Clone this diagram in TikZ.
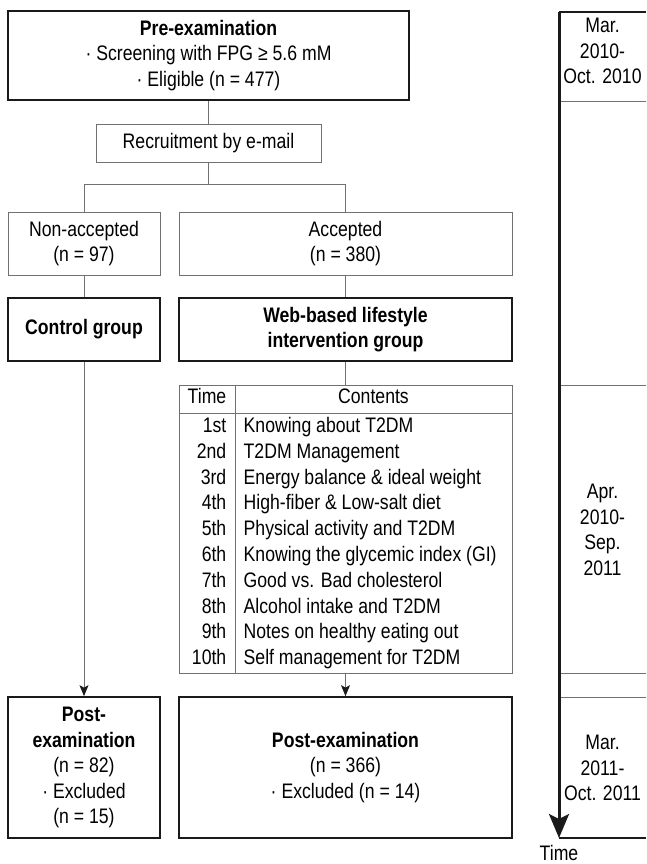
\documentclass[tikz,border=0pt]{standalone}
\usepackage{fontspec}
\setmainfont{Liberation Sans}[FakeStretch=0.84]
\usetikzlibrary{arrows.meta}
\definecolor{lg}{HTML}{707070}
\definecolor{dk}{HTML}{1A1A1A}
\newcommand\dtxt{\fontsize{21}{25.5}\selectfont}
\begin{document}
\begin{tikzpicture}[x=1pt,y=-1pt,
  txt/.style={inner sep=0pt, align=center, font=\dtxt, text=black},
  thinbox/.style={txt, draw=lg, line width=1pt},
  thickbox/.style={txt, draw=dk, line width=1.7pt},
  conn/.style={draw=lg, line width=1pt},
  arr/.style={conn, -{Stealth[length=11pt,width=9pt,inset=2.5pt,color=dk]}},
  tick/.style={draw=lg, line width=1pt},
  tickdk/.style={draw=dk, line width=1.2pt}]
\useasboundingbox (0,0) rectangle (646,864);
% boxes
\node[thickbox, minimum width=401pt, minimum height=89pt] (pre) at (208.5,55.5)
  {\textbf{Pre-examination}\\· Screening with FPG ≥ 5.6 mM\\· Eligible (n = 477)};
\node[thinbox, minimum width=225pt, minimum height=37pt] (rec) at (208.5,143.5)
  {Recruitment by e-mail};
\node[thinbox, minimum width=152pt, minimum height=63pt] (non) at (84,243.5)
  {Non-accepted\\(n = 97)};
\node[thinbox, minimum width=333pt, minimum height=63pt] (acc) at (345.5,243.5)
  {Accepted\\(n = 380)};
\node[thickbox, minimum width=152pt, minimum height=63pt] (ctrl) at (84,329.5)
  {\textbf{Control group}};
\node[thickbox, minimum width=333pt, minimum height=63pt] (web) at (345.5,329.5)
  {\textbf{Web-based lifestyle}\\\textbf{intervention group}};
\node[draw=lg, line width=1pt, inner sep=0pt, minimum width=333pt, minimum height=288pt] (tbl) at (345.5,529) {};
\node[thickbox, minimum width=152pt, minimum height=141pt] (postl) at (84,767.5)
  {\textbf{Post-}\\\textbf{examination}\\(n = 82)\\· Excluded\\(n = 15)};
\node[thickbox, minimum width=333pt, minimum height=141pt] (postr) at (345.5,767.5)
  {\textbf{Post-examination}\\(n = 366)\\· Excluded (n = 14)};
% table internals
\coordinate (hl) at (179,413);
\coordinate (hr) at (512,413);
\coordinate (ct) at (235,385);
\coordinate (cb) at (235,673);
\draw[conn] (hl) -- (hr);
\draw[conn] (ct) -- (cb);
\node[txt, anchor=mid] (th1) at (207,401) {Time};
\node[txt, anchor=mid] (th2) at (373.5,401) {Contents};
\foreach \n/\c [count=\i from 0] in {1st/Knowing about T2DM, 2nd/T2DM Management,
  3rd/Energy balance \& ideal weight, 4th/High-fiber \& Low-salt diet,
  5th/Physical activity and T2DM, 6th/Knowing the glycemic index (GI),
  7th/Good vs. Bad cholesterol, 8th/Alcohol intake and T2DM,
  9th/Notes on healthy eating out, 10th/Self management for T2DM}{
  \node[txt, anchor=mid east] (rn\i) at (226.5,{430+\i*25.78}) {\n};
  \node[txt, anchor=mid west] (rc\i) at (243.5,{430+\i*25.78}) {\c};
}
% connectors
\coordinate (bl) at (84,184);
\coordinate (br) at (345.5,184);
\coordinate (bm) at (208.5,184);
\draw[conn] (pre.south) -- (rec.north);
\draw[conn] (rec.south) -- (bm);
\draw[conn] (non.north) -- (bl) -- (br) -- (acc.north);
\draw[conn] (non.south) -- (ctrl.north);
\draw[conn] (acc.south) -- (web.north);
\draw[conn] (web.south) -- (tbl.north);
\draw[arr] (ctrl.south) -- (postl.north);
\draw[arr] (tbl.south) -- (postr.north);
% timeline
\coordinate (t0) at (559,12);
\coordinate (t1) at (559,838);
\foreach \y/\s in {12/tickdk,102/tick,385/tick,673/tick,697/tick,838/tickdk}{
  \coordinate (a\y) at (559,\y);
  \coordinate (b\y) at (646,\y);
  \draw[\s] (a\y) -- (b\y);
}
\draw[dk, line width=3pt, -{Stealth[length=24pt,width=20pt,inset=5pt]}] (t0) -- (t1);
\node[txt] (p1) at (602.5,51) {Mar.\\2010-\\Oct. 2010};
\node[txt] (p2) at (602.5,530) {Apr.\\2010-\\Sep.\\2011};
\node[txt] (p3) at (602.5,768) {Mar.\\2011-\\Oct. 2011};
\node[txt, anchor=base] (tm) at (559,860) {Time};
\end{tikzpicture}
\end{document}
